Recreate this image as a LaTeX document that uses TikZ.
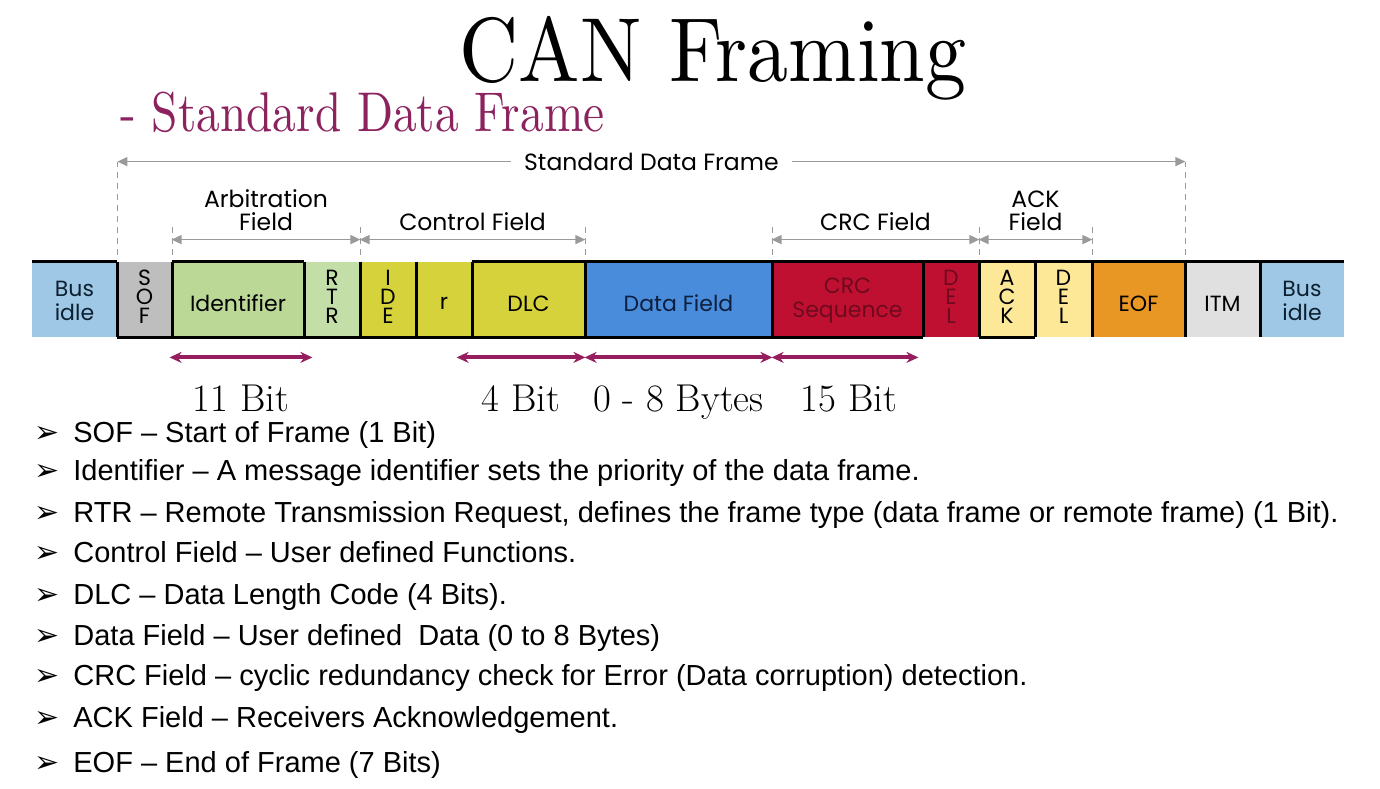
\documentclass[tikz,border=0pt]{standalone}
\usepackage{fontspec}
\usetikzlibrary{arrows.meta,fit,positioning}
\newfontfamily\listfont{Liberation Sans}
\newfontfamily\boxfont{Poppins}
\newfontfamily\symfont{DejaVu Sans}
\newfontfamily\titlefont{lmroman10-regular.otf}[FakeStretch=0.9]
\newfontfamily\subfont{lmroman10-regular.otf}[FakeStretch=0.845]
\definecolor{busblue}{HTML}{9EC8E6}
\definecolor{sofgray}{HTML}{BEBEBE}
\definecolor{idgreen}{HTML}{BCD896}
\definecolor{rtrgreen}{HTML}{C4DEA8}
\definecolor{ctrlyel}{HTML}{D6D23C}
\definecolor{datablue}{HTML}{4A8CDC}
\definecolor{crcred}{HTML}{C01032}
\definecolor{ackyel}{HTML}{FCE896}
\definecolor{eoforange}{HTML}{E89624}
\definecolor{itmgray}{HTML}{E0E0E0}
\definecolor{idletxt}{HTML}{0D2030}
\definecolor{datatxt}{HTML}{0D1F3C}
\definecolor{crctxt}{HTML}{6E0A1E}
\definecolor{dimgray}{HTML}{9A9A9A}
\definecolor{bitmag}{HTML}{961E5F}
\definecolor{submag}{HTML}{8C235F}

\begin{document}
\begin{tikzpicture}[x=0.5pt, y=-0.5pt,
  fld/.style={inner sep=0pt},
  fldtxt/.style={inner sep=0pt, align=center, font=\boxfont\fontsize{11}{12}\selectfont},
  sig/.style={line width=1.4pt, black},
  dim/.style={draw=dimgray, line width=0.8pt, {Triangle[length=5pt,width=4.5pt]}-{Triangle[length=5pt,width=4.5pt]}},
  guide/.style={draw=dimgray, line width=0.6pt, dash pattern=on 3pt off 2.5pt},
  dimtxt/.style={align=center, text=black, inner sep=2pt, font=\boxfont\fontsize{11.75}{11.5}\selectfont},
  bitarrow/.style={draw=bitmag, line width=2pt, {Stealth[length=6pt,width=5.5pt]}-{Stealth[length=6pt,width=5.5pt]}},
  bittxt/.style={font=\fontsize{19.4}{22}\selectfont},
  item/.style={anchor=base west, inner sep=0pt, font=\listfont\fontsize{14.5}{17}\selectfont},
  bullet/.style={anchor=base west, inner sep=0pt, font=\symfont\fontsize{15}{17}\selectfont}]
  \useasboundingbox (0,0) rectangle (1380,788);

  % headings
  \node[anchor=base, inner sep=0pt, font=\titlefont\fontsize{45.5}{50}\selectfont] (title) at (713,81) {CAN Framing};
  \node[anchor=base west, inner sep=0pt, text=submag, font=\subfont\fontsize{28}{32}\selectfont] (subtitle) at (120,131) {- Standard Data Frame};

  % frame fields
  \foreach \nm/\l/\r/\c/\tc/\dy/\t in {
    idleL/32/117/busblue/idletxt/-0.75pt/{Bus\\idle},
    sof/117/172/sofgray/black/1.5pt/{S\\[-2.5pt]O\\[-2.5pt]F},
    ident/172/304/idgreen/black/-2pt/Identifier,
    rtr/304/360/rtrgreen/black/1.5pt/{R\\[-2.5pt]T\\[-2.5pt]R},
    ide/360/416/ctrlyel/black/1.5pt/{I\\[-2.5pt]D\\[-2.5pt]E},
    res/416/472/ctrlyel/black/-2pt/r,
    dlc/472/585/ctrlyel/black/-2pt/DLC,
    data/585/772/datablue/datatxt/-2pt/Data Field,
    crc/772/923/crcred/crctxt/-0.75pt/{CRC\\Sequence},
    crcdel/923/979/crcred/crctxt/1.5pt/{D\\[-2.5pt]E\\[-2.5pt]L},
    ack/979/1035/ackyel/black/1.5pt/{A\\[-2.5pt]C\\[-2.5pt]K},
    ackdel/1035/1092/ackyel/black/1.5pt/{D\\[-2.5pt]E\\[-2.5pt]L},
    eof/1092/1185/eoforange/black/-2pt/EOF,
    itm/1185/1260/itmgray/black/-2pt/ITM,
    idleR/1260/1344/busblue/idletxt/-0.75pt/{Bus\\idle}} {
    \node[fld, fill=\c, fit={(\l,262) (\r,337)}] (\nm) {};
    \node[fldtxt, text=\tc] (\nm lbl) at ([yshift=\dy]\nm.center) {\t};
  }

  % signal outline
  \foreach \nm in {idleL, sof, ident, rtr, ide, res, dlc, data, crc, crcdel, ack, ackdel, eof, itm}
    \draw[sig] (\nm.north east) -- (\nm.south east);
  \draw[sig] (idleL.north west) -- (idleL.north east);
  \draw[sig] (sof.south west) -- (crc.south east);
  \draw[sig] (ack.south west) -- (ack.south east);
  \draw[sig] (ident.north west) -- (ident.north east);
  \draw[sig] (dlc.north west) -- (idleR.north east);

  % guides and field spans
  \foreach \nm/\s in {idleL/50pt, eof/50pt}
    \draw[guide] ([yshift=3.5pt]\nm.north east) -- ([yshift=\s]\nm.north east);
  \foreach \nm in {sof, rtr, dlc, data, crcdel, ackdel}
    \draw[guide] ([yshift=3.5pt]\nm.north east) -- ([yshift=19.5pt]\nm.north east);
  \draw[dim] ([yshift=50pt]idleL.north east) -- node[dimtxt, fill=white, inner xsep=6.5pt] (frametxt) {Standard Data Frame} ([yshift=50pt]eof.north east);
  \draw[dim] ([yshift=11pt]ident.north west) -- node[dimtxt, above=2pt] (arbtxt) {Arbitration\\Field} ([yshift=11pt]rtr.north east);
  \draw[dim] ([yshift=11pt]ide.north west) -- node[dimtxt, above=2pt] (ctrltxt) {Control Field} ([yshift=11pt]dlc.north east);
  \draw[dim] ([yshift=11pt]crc.north west) -- node[dimtxt, above=2pt] (crctxt) {CRC Field} ([yshift=11pt]crcdel.north east);
  \draw[dim] ([yshift=11pt]ack.north west) -- node[dimtxt, above=2pt] (acktxt) {ACK\\Field} ([yshift=11pt]ackdel.north east);

  % bit lengths
  \draw[bitarrow] ([xshift=-1pt,yshift=-10pt]ident.south west) -- node[bittxt, below=9.5pt] (len11) {11 Bit} ([xshift=4pt,yshift=-10pt]ident.south east);
  \draw[bitarrow] ([xshift=-7.5pt,yshift=-10pt]dlc.south west) -- node[bittxt, below=9.5pt] (len4) {4 Bit} ([yshift=-10pt]dlc.south east);
  \draw[bitarrow] ([yshift=-10pt]data.south west) -- node[bittxt, below=9.5pt] (len08) {0 - 8 Bytes} ([yshift=-10pt]data.south east);
  \draw[bitarrow] ([yshift=-10pt]crc.south west) -- node[bittxt, below=9.5pt, xshift=2pt] (len15) {15 Bit} ([xshift=-2.5pt,yshift=-10pt]crc.south east);

  % description list
  \foreach \i/\y/\t in {
    1/442/{SOF – Start of Frame (1 Bit)},
    2/480/{Identifier – A message identifier sets the priority of the data frame.},
    3/522/{RTR – Remote Transmission Request, defines the frame type (data frame or remote frame) (1 Bit).},
    4/562/{Control Field – User defined Functions.},
    5/604/{DLC – Data Length Code (4 Bits).},
    6/645/{Data Field – User defined\ \ Data (0 to 8 Bytes)},
    7/685/{CRC Field – cyclic redundancy check for Error (Data corruption) detection.},
    8/727/{ACK Field – Receivers Acknowledgement.},
    9/772/{EOF – End of Frame (7 Bits)}} {
    \node[bullet] (mark\i) at (34,\y) {➢};
    \node[item] (item\i) at (73,\y) {\t};
  }
\end{tikzpicture}
\end{document}
